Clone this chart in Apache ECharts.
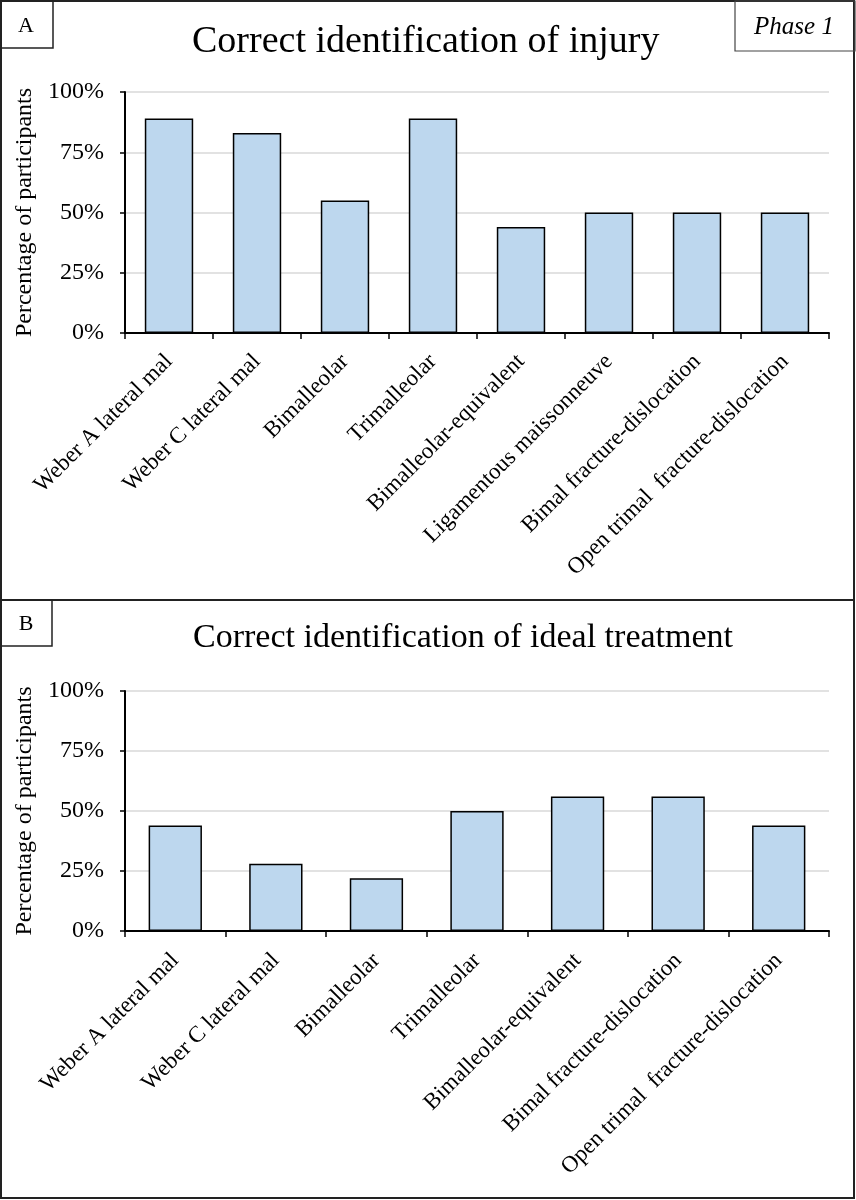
<!DOCTYPE html>
<html>
<head>
<meta charset="utf-8">
<script src="https://cdn.jsdelivr.net/npm/echarts@6/dist/echarts.min.js"></script>
<style>
  html, body { margin: 0; padding: 0; background: #fff; }
  #chart { width: 856px; height: 1200px; }
</style>
</head>
<body>
<div id="chart"></div>
<script>
// ---- Data ----
const categoriesA = ['Weber A lateral mal', 'Weber C lateral mal', 'Bimalleolar', 'Trimalleolar',
  'Bimalleolar-equivalent', 'Ligamentous maissonneuve', 'Bimal fracture-dislocation', 'Open trimal  fracture-dislocation'];
const valuesA = [89, 83, 55, 89, 44, 50, 50, 50];

const categoriesB = ['Weber A lateral mal', 'Weber C lateral mal', 'Bimalleolar', 'Trimalleolar',
  'Bimalleolar-equivalent', 'Bimal fracture-dislocation', 'Open trimal  fracture-dislocation'];
const valuesB = [44, 28, 22, 50, 56, 56, 44];

const yTicks = [0, 25, 50, 75, 100];
const titleA = 'Correct identification of injury';
const titleB = 'Correct identification of ideal treatment';
const yName = 'Percentage of participants';
const phaseLabel = 'Phase 1';

// ---- Chart ----
const FONT = '"Liberation Serif", "Times New Roman", serif';
const chart = echarts.init(document.getElementById('chart'), null, { renderer: 'canvas' });

function yAxis(gridIndex) {
  return {
    type: 'value', gridIndex: gridIndex, min: yTicks[0], max: yTicks[yTicks.length - 1], interval: 25,
    name: yName, nameLocation: 'middle', nameGap: 82,
    nameTextStyle: { fontFamily: FONT, fontSize: 24, color: '#000' },
    axisLine: { show: true, lineStyle: { color: '#000', width: 2 } },
    axisTick: { show: true, length: 5, lineStyle: { color: '#000', width: 1.5 } },
    axisLabel: { formatter: '{value}%', fontFamily: FONT, fontSize: 24, color: '#000', margin: 21 },
    splitLine: { show: true, lineStyle: { color: '#d9d9d9', width: 1.5 } }
  };
}
function xAxis(gridIndex, cats, margin) {
  return {
    type: 'category', gridIndex: gridIndex, data: cats,
    axisLine: { show: true, lineStyle: { color: '#000', width: 2 } },
    axisTick: { show: true, alignWithLabel: false, length: 6, lineStyle: { color: '#000', width: 1.5 } },
    axisLabel: { rotate: 45, interval: 0, fontFamily: FONT, fontSize: 23, color: '#000', margin: margin }
  };
}
const barStyle = { color: '#BDD7EE', borderColor: '#000', borderWidth: 1.5 };

chart.setOption({
  animation: false,
  backgroundColor: '#fff',
  grid: [
    { left: 125, right: 27, top: 92, height: 241 },
    { left: 125, right: 27, top: 691, height: 240 }
  ],
  xAxis: [xAxis(0, categoriesA, 25), xAxis(1, categoriesB, 26)],
  yAxis: [yAxis(0), yAxis(1)],
  series: [
    { type: 'bar', xAxisIndex: 0, yAxisIndex: 0, data: valuesA, barCategoryGap: '45%', itemStyle: barStyle },
    { type: 'bar', xAxisIndex: 1, yAxisIndex: 1, data: valuesB, barCategoryGap: '47%', itemStyle: barStyle }
  ],
  graphic: [
    { type: 'rect', shape: { x: 1, y: 1, width: 853, height: 1197 }, style: { fill: 'none', stroke: '#222', lineWidth: 2 } },
    { type: 'line', shape: { x1: 1, y1: 600, x2: 855, y2: 600 }, style: { stroke: '#222', lineWidth: 2 } },
    { type: 'rect', shape: { x: 1, y: 1, width: 52, height: 47 }, style: { fill: 'none', stroke: '#222', lineWidth: 1.5 } },
    { type: 'rect', shape: { x: 1, y: 600, width: 51, height: 46 }, style: { fill: 'none', stroke: '#222', lineWidth: 1.5 } },
    { type: 'rect', shape: { x: 735, y: 1, width: 120, height: 50 }, style: { fill: 'none', stroke: '#444', lineWidth: 1.2 } },
    { type: 'text', x: 26, y: 26, style: { text: 'A', font: '22px ' + FONT, fill: '#000', align: 'center', verticalAlign: 'middle' } },
    { type: 'text', x: 26, y: 624, style: { text: 'B', font: '22px ' + FONT, fill: '#000', align: 'center', verticalAlign: 'middle' } },
    { type: 'text', x: 794, y: 27, style: { text: phaseLabel, font: 'italic 25px ' + FONT, fill: '#000', align: 'center', verticalAlign: 'middle' } },
    { type: 'text', x: 192, y: 42, style: { text: titleA, font: '38px ' + FONT, fill: '#000', align: 'left', verticalAlign: 'middle' } },
    { type: 'text', x: 193, y: 638, style: { text: titleB, font: '34px ' + FONT, fill: '#000', align: 'left', verticalAlign: 'middle' } }
  ]
});
</script>
</body>
</html>
